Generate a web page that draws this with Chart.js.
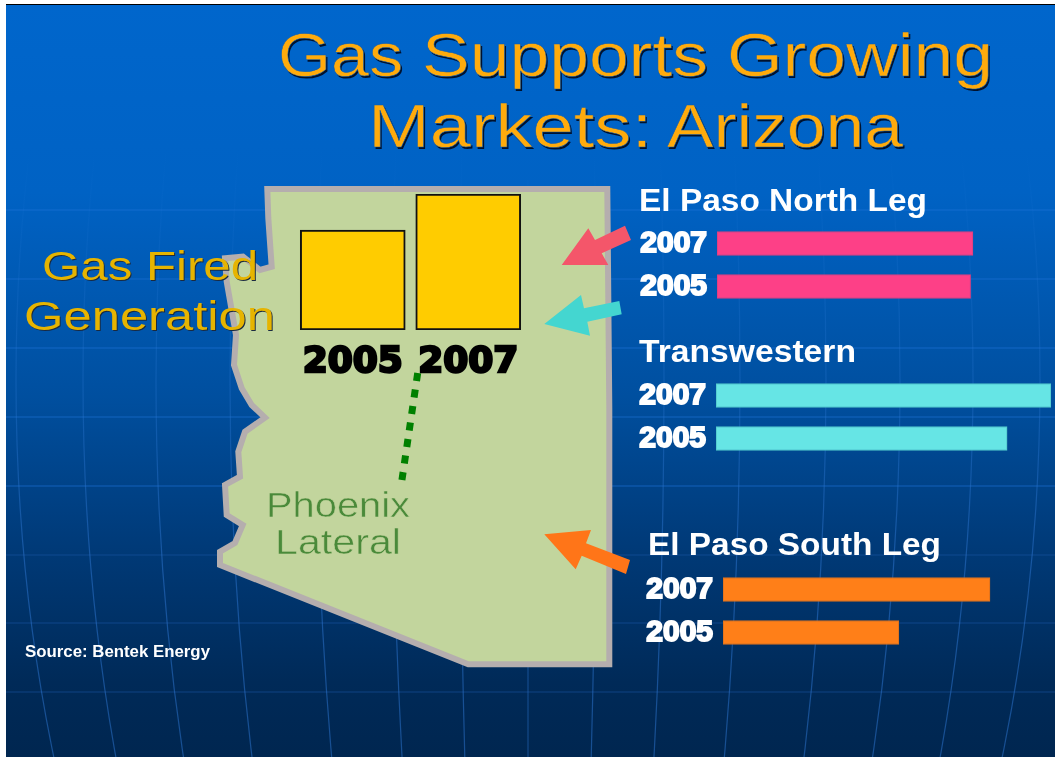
<!DOCTYPE html>
<html><head><meta charset="utf-8"><title>Gas Supports Growing Markets: Arizona</title>
<script src="https://cdn.jsdelivr.net/npm/chart.js@4"></script>
<style>
html,body{margin:0;padding:0;width:1055px;height:757px;overflow:hidden;background:#fff}
#slide{position:absolute;left:6px;top:4px;width:1049px;height:753px;border-top:1px solid #000;box-sizing:border-box;
 background:linear-gradient(180deg,#0066cc 0,#0062c4 25%,#004f9f 52%,#003a78 72%,#002a58 90%,#002650 100%)}
svg{position:absolute;left:0;top:0}
canvas{position:absolute}
text{font-family:"Liberation Sans",Arial,sans-serif}
</style></head><body>
<div id="slide"></div>
<svg width="1055" height="757" viewBox="0 0 1055 757">
 <defs><linearGradient id="fade" gradientUnits="userSpaceOnUse" x1="0" y1="150" x2="0" y2="560">
  <stop offset="0" stop-color="#2b80e0" stop-opacity="0"/><stop offset="1" stop-color="#2a70c8" stop-opacity=".55"/></linearGradient>
  <clipPath id="sl"><rect x="6" y="5" width="1049" height="752"/></clipPath></defs>
 <g id="globe" clip-path="url(#sl)" fill="none"></g>
 <polygon points="267.3,189 607.3,189 609.3,408 609.3,664.3 468.3,664.3 220,565 220,551.7 235,543 242.7,525 226.7,515 225,485 240,476.7 238.3,451.7 245,431.7 265,417.7 251.7,405 241.7,388.3 234,365 236,335 226.7,281.7 225,258.3 243,256.7 260,270 271.7,266.7 268.3,218"
  fill="#c2d59d" stroke="#b5aeae" stroke-width="6" stroke-linejoin="miter"/>
 <polygon points="561.7,265 588.3,228.3 595,240 625,225.7 631,240 601.7,253.3 608.3,265" fill="#f4566a"/>
 <polygon points="544.3,324 581,295 584,308.3 619.3,301 621.7,314.3 587.3,321.7 590,335.7" fill="#44d6d0"/>
 <polygon points="544.3,534.3 591,530 586,543.3 630,560 626,574 581.7,555.7 575.7,569.3" fill="#ff7518"/>
 <line x1="417.7" y1="373" x2="401.5" y2="483" stroke="#008000" stroke-width="7" stroke-dasharray="8 8.7"/>
</svg>
<canvas id="gen" style="left:295px;top:190px"></canvas>
<canvas id="north" style="left:638px;top:222px"></canvas>
<canvas id="trans" style="left:637px;top:374px"></canvas>
<canvas id="south" style="left:644px;top:568px"></canvas>
<svg width="1055" height="757" viewBox="0 0 1055 757">
 <g fill="#00122e" font-size="62">
  <text x="279.5" y="77.5" textLength="125" lengthAdjust="spacingAndGlyphs">Gas</text>
  <text x="423.5" y="77.5" textLength="286" lengthAdjust="spacingAndGlyphs">Supports</text>
  <text x="728.5" y="77.5" textLength="266" lengthAdjust="spacingAndGlyphs">Growing</text>
  <text x="369.5" y="148.5" textLength="284" lengthAdjust="spacingAndGlyphs">Markets:</text>
  <text x="668.5" y="148.5" textLength="236" lengthAdjust="spacingAndGlyphs">Arizona</text></g>
 <g fill="#ffab0c" font-size="62" stroke="#0a5cb4" stroke-width=".5">
  <text x="278" y="76" textLength="125" lengthAdjust="spacingAndGlyphs">Gas</text>
  <text x="422" y="76" textLength="286" lengthAdjust="spacingAndGlyphs">Supports</text>
  <text x="727" y="76" textLength="266" lengthAdjust="spacingAndGlyphs">Growing</text>
  <text x="368" y="147" textLength="284" lengthAdjust="spacingAndGlyphs">Markets:</text>
  <text x="667" y="147" textLength="236" lengthAdjust="spacingAndGlyphs">Arizona</text></g>
 <g fill="#1a2a40" font-size="41"><text x="43" y="281" textLength="216" lengthAdjust="spacingAndGlyphs">Gas Fired</text>
 <text x="25" y="331" textLength="251" lengthAdjust="spacingAndGlyphs">Generation</text></g>
 <g fill="#e6b400" font-size="41"><text x="42" y="280" textLength="216" lengthAdjust="spacingAndGlyphs">Gas Fired</text>
 <text x="24" y="330" textLength="251" lengthAdjust="spacingAndGlyphs">Generation</text></g>
 <g fill="#4a8a3a" font-size="35" stroke="#c2d59d" stroke-width=".5"><text x="266" y="517" textLength="144" lengthAdjust="spacingAndGlyphs">Phoenix</text>
 <text x="275" y="554" textLength="126" lengthAdjust="spacingAndGlyphs">Lateral</text></g>
 <g fill="#fff" font-size="32" font-weight="bold"><text x="639" y="211" textLength="288" lengthAdjust="spacingAndGlyphs">El Paso North Leg</text>
 <text x="639" y="362" textLength="217" lengthAdjust="spacingAndGlyphs">Transwestern</text>
 <text x="648" y="555" textLength="293" lengthAdjust="spacingAndGlyphs">El Paso South Leg</text></g>
 <text x="25" y="656.5" fill="#fff" font-size="16" font-weight="bold" textLength="185" lengthAdjust="spacingAndGlyphs">Source: Bentek Energy</text>
</svg>
<script>
// Relative values (no units are printed on the reference)
const generationYears = ["2005", "2007"];
const generationValues = [73.5, 100];          // Gas-fired generation, 2007 = 100
const pipelineYears = ["2007", "2005"];
const northLegValues = [76.4, 75.7];           // El Paso North Leg
const transwesternValues = [100, 86.9];        // Transwestern
const southLegValues = [79.7, 52.5];           // El Paso South Leg

// Decorative globe behind the slide
const latitudes = [210, 279, 348, 417, 486, 555, 623, 692];
const meridians = [68, 136, 212, 298, 372, 445, 512, 590];
const g = document.getElementById("globe"), NS = "http://www.w3.org/2000/svg";
latitudes.forEach(y => { const l = document.createElementNS(NS, "line");
  l.setAttribute("x1", 6); l.setAttribute("x2", 1055); l.setAttribute("y1", y); l.setAttribute("y2", y);
  l.setAttribute("stroke", y < 500 ? "#1f74dc" : "#1c5aa8"); l.setAttribute("stroke-opacity", y < 500 ? .6 : .55); l.setAttribute("stroke-width", 1.2); g.appendChild(l); });
meridians.forEach(rx => { const e = document.createElementNS(NS, "ellipse");
  e.setAttribute("cx", 528); e.setAttribute("cy", 380); e.setAttribute("rx", rx); e.setAttribute("ry", 1000);
  e.setAttribute("stroke", "url(#fade)"); e.setAttribute("stroke-width", 1.2); g.appendChild(e); });
const v0 = document.createElementNS(NS, "line"); v0.setAttribute("x1",528); v0.setAttribute("x2",528.01); v0.setAttribute("y1",180); v0.setAttribute("y2",757); v0.setAttribute("stroke","url(#fade)"); g.appendChild(v0);

// The labels must not push the plot area inward: the bars sit at fixed spacing
function noMargins(s) { s.paddingTop = s.paddingBottom = s.paddingLeft = s.paddingRight = 0; }

function pipeline(id, values, color, edge) {
  const c = document.getElementById(id);
  c.width = 414; c.height = 86;
  new Chart(c, {
    type: "bar",
    data: { labels: pipelineYears, datasets: [{ data: values, backgroundColor: color, borderColor: edge, borderWidth: 1, borderSkipped: false, barThickness: 24 }] },
    options: {
      indexAxis: "y", responsive: false, animation: false,
      layout: { padding: 0 },
      plugins: { legend: { display: false }, tooltip: { enabled: false } },
      scales: {
        x: { display: false, min: 0, max: 100 },
        y: { afterFit: s => { s.width = 79; noMargins(s); }, border: { display: false }, grid: { display: false, drawTicks: false },
          ticks: { autoSkip: false, padding: 10, color: "#fff", textStrokeColor: "#fff", textStrokeWidth: 2,
            font: { family: "Liberation Sans", weight: "bold", size: 30 } } }
      }
    }
  });
}
pipeline("north", northLegValues, "#fd4087", "#d9407f");
pipeline("trans", transwesternValues, "#66e5e5", "#4fc4c8");
pipeline("south", southLegValues, "#ff7f18", "#d9701f");

const gc = document.getElementById("gen");
gc.width = 231; gc.height = 190;
new Chart(gc, {
  type: "bar",
  data: { labels: generationYears, datasets: [{ data: generationValues, backgroundColor: "#ffcc00", borderColor: "#111", borderWidth: 2, borderSkipped: false, barThickness: 105 }] },
  options: {
    responsive: false, animation: false,
    layout: { padding: { top: 4 } },
    plugins: { legend: { display: false }, tooltip: { enabled: false } },
    scales: {
      y: { display: false, min: 0, max: 100 },
      x: { afterFit: s => { s.height = 50; noMargins(s); }, border: { display: false }, grid: { display: false, drawTicks: false },
        ticks: { autoSkip: false, padding: 11, color: "#000", textStrokeColor: "#000", textStrokeWidth: 2.5, maxRotation: 0,
          font: { family: "DejaVu Sans", weight: "bold", size: 36 } } }
    }
  }
});
</script>
</body></html>
